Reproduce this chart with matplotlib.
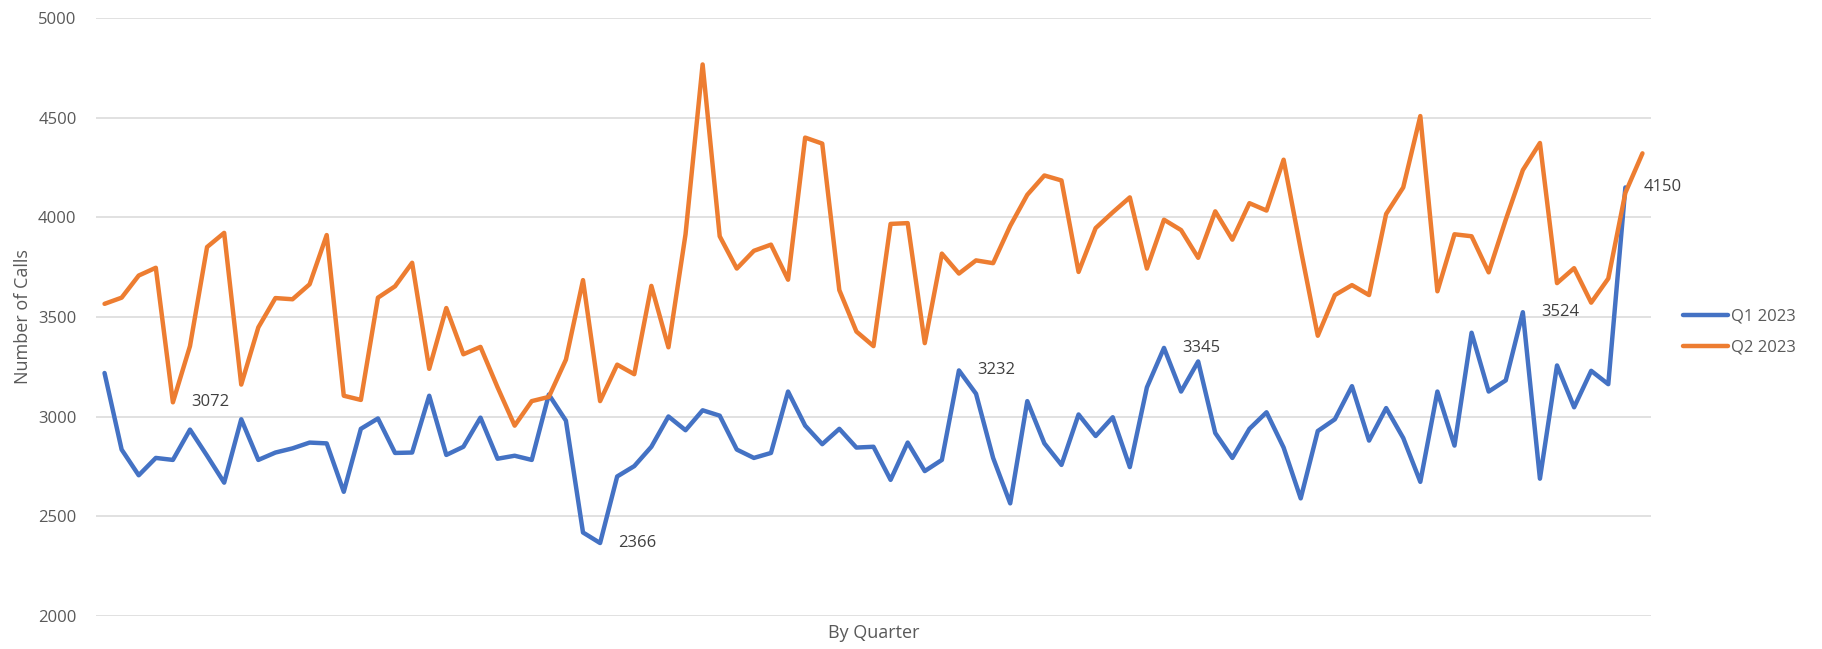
import numpy as np
import matplotlib.pyplot as plt

plt.rcParams['font.family'] = ['Open Sans', 'DejaVu Sans']

# daily call counts (Q1 has 90 days, Q2 has 91)
q1_calls = [3219, 2835, 2706, 2793, 2783, 2935, 2804, 2669, 2987, 2783,
            2820, 2841, 2870, 2866, 2623, 2939, 2991, 2818, 2820, 3105,
            2808, 2849, 2995, 2789, 2804, 2783, 3111, 2980, 2419, 2366,
            2700, 2752, 2849, 3001, 2932, 3032, 3005, 2835, 2793, 2818,
            3126, 2955, 2862, 2939, 2845, 2849, 2683, 2870, 2727, 2783,
            3232, 3115, 2793, 2565, 3078, 2866, 2758, 3011, 2903, 2997,
            2747, 3147, 3345, 3126, 3277, 2918, 2793, 2939, 3022, 2845,
            2590, 2928, 2987, 3153, 2880, 3043, 2893, 2673, 3126, 2855,
            3421, 3126, 3182, 3524, 2689, 3257, 3047, 3230, 3163, 4150]
q2_calls = [3566, 3597, 3708, 3747, 3072, 3354, 3851, 3922, 3161, 3448,
            3595, 3589, 3664, 3911, 3105, 3084, 3597, 3654, 3772, 3240,
            3545, 3313, 3350, 3147, 2955, 3078, 3099, 3286, 3685, 3078,
            3261, 3213, 3656, 3348, 3915, 4767, 3905, 3743, 3832, 3863,
            3687, 4400, 4370, 3635, 3427, 3354, 3967, 3971, 3369, 3818,
            3718, 3784, 3770, 3957, 4113, 4210, 4185, 3726, 3946, 4025,
            4100, 3743, 3988, 3936, 3797, 4030, 3888, 4071, 4034, 4289,
            3840, 3406, 3610, 3660, 3610, 4017, 4150, 4508, 3629, 3915,
            3905, 3724, 3988, 4237, 4373, 3670, 3745, 3572, 3693, 4123,
            4321]
series_names = ['Q1 2023', 'Q2 2023']
q1_labelled = [29, 50, 62, 83, 89]
q2_labelled = [4]

blue = '#4472C4'
orange = '#ED7D31'
W, H = 1822, 649

fig = plt.figure(figsize=(W / 100, H / 100), dpi=100)
ax = fig.add_axes([96 / W, 1 - 616 / H, (1651 - 96) / W, (616 - 18) / H])

l1, = ax.plot(np.arange(len(q1_calls)), q1_calls, color=blue, lw=3.2,
              solid_joinstyle='round', solid_capstyle='round')
l2, = ax.plot(np.arange(len(q2_calls)), q2_calls, color=orange, lw=3.2,
              solid_joinstyle='round', solid_capstyle='round')

for i in q1_labelled:
    ax.annotate(str(q1_calls[i]), (i, q1_calls[i]), xytext=(13, 0),
                textcoords='offset points', ha='left', va='center',
                fontsize=12, color='#404040')
for i in q2_labelled:
    ax.annotate(str(q2_calls[i]), (i, q2_calls[i]), xytext=(13, 0),
                textcoords='offset points', ha='left', va='center',
                fontsize=12, color='#404040')

ax.set_xlim(-0.5, 90.5)
ax.set_ylim(2000, 5000)
ax.set_yticks(np.arange(2000, 5001, 500))
ax.set_xticks([])
ax.grid(axis='y', color='#D9D9D9', lw=1.1)
ax.set_axisbelow(True)
for s in ax.spines.values():
    s.set_visible(False)
ax.tick_params(axis='y', length=0, pad=14, labelsize=12, labelcolor='#595959')

ax.set_ylabel('Number of Calls', fontsize=13, color='#595959', labelpad=4)
ax.set_xlabel('By Quarter', fontsize=13, color='#595959', labelpad=6)

fig.legend([l1, l2], series_names, loc='center left',
           bbox_to_anchor=(1683 / W, 1 - 332 / H), frameon=False,
           fontsize=12, labelcolor='#595959', handlelength=2.7,
           handletextpad=0.2, labelspacing=0.9, borderpad=0, borderaxespad=0)

fig.savefig('out.png', dpi=100)
